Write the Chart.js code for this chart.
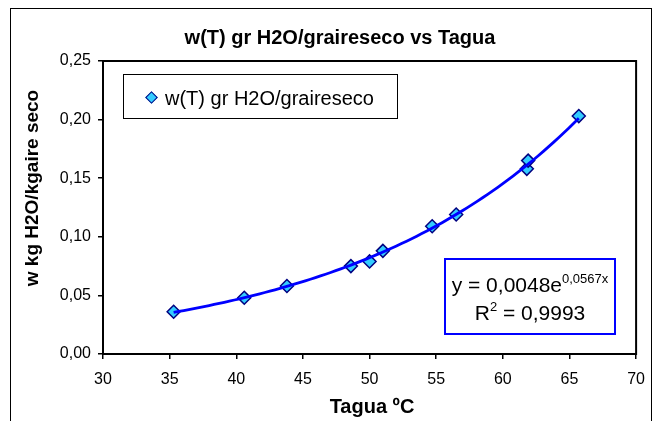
<!DOCTYPE html>
<html>
<head>
<meta charset="utf-8">
<script src="https://cdn.jsdelivr.net/npm/chart.js@4"></script>
<style>
html,body{margin:0;padding:0;background:#fff;overflow:hidden}
#wrap{position:relative;width:656px;height:421px;overflow:hidden;font-family:"Liberation Sans",Arial,sans-serif;color:#000}
#cv{position:absolute;left:0;top:0}
#frame{position:absolute;left:10px;top:8px;width:642px;height:500px;border:1.5px solid #000;box-sizing:border-box;pointer-events:none}
.abs{position:absolute;white-space:nowrap}
#title{left:340px;top:37px;transform:translate(-50%,-50%);font-weight:bold;font-size:20px}
#ytitle{left:32px;top:188px;transform:translate(-50%,-50%) rotate(-90deg);font-weight:bold;font-size:19px}
#xtitle{left:372px;top:406px;transform:translate(-50%,-50%);font-weight:bold;font-size:20px}
#legend{left:123px;top:74px;width:275px;height:45px;border:1px solid #000;background:#fff;box-sizing:border-box}
#legmark{left:147px;top:93px;width:7px;height:7px;background:#33CCFF;border:1.5px solid #000080;transform:rotate(45deg)}
#legtext{left:165px;top:86px;font-size:20px;line-height:24px}
#eqbox{left:444px;top:258px;width:172px;height:77px;border:2px solid #0000FF;background:#fff;box-sizing:border-box}
.eq{left:444px;width:172px;text-align:center;font-size:21px;line-height:24px}
#eq1{top:273px}
#eq2{top:301px}
sup{font-size:13px;vertical-align:0;position:relative;top:-9px}
</style>
</head>
<body>
<div id="wrap">
  <canvas id="cv" width="656" height="421"></canvas>
  <div id="frame"></div>
  <div id="title" class="abs">w(T) gr H2O/graireseco vs Tagua</div>
  <div id="ytitle" class="abs">w kg H2O/kgaire seco</div>
  <div id="xtitle" class="abs">Tagua ºC</div>
  <div id="legend" class="abs"></div>
  <div id="legmark" class="abs"></div>
  <div id="legtext" class="abs">w(T) gr H2O/graireseco</div>
  <div id="eqbox" class="abs"></div>
  <div id="eq1" class="abs eq">y = 0,0048e<sup>0,0567x</sup></div>
  <div id="eq2" class="abs eq">R<sup>2</sup> = 0,9993</div>
</div>
<script>
// ---- data ----
const temps   = [35.3, 40.6, 43.8, 48.6, 50.0, 51.0, 54.7, 56.5, 61.8, 61.9, 65.7];
const wValues = [0.036, 0.048, 0.058, 0.075, 0.079, 0.088, 0.109, 0.119, 0.158, 0.165, 0.203];
const seriesLabel = 'w(T) gr H2O/graireseco';
const xTicks = [30, 35, 40, 45, 50, 55, 60, 65, 70];
const xTickLabels = ['30', '35', '40', '45', '50', '55', '60', '65', '70'];
const yTicks = [0, 0.05, 0.10, 0.15, 0.20, 0.25];
const yTickLabels = ['0,00', '0,05', '0,10', '0,15', '0,20', '0,25'];

// ---- exponential trendline (least squares on ln y, as the spreadsheet does) ----
const n = temps.length;
let sx = 0, sy = 0, sxx = 0, sxy = 0;
for (let i = 0; i < n; i++) {
  const lx = temps[i], ly = Math.log(wValues[i]);
  sx += lx; sy += ly; sxx += lx * lx; sxy += lx * ly;
}
const fitB = (n * sxy - sx * sy) / (n * sxx - sx * sx);
const fitA = Math.exp((sy - fitB * sx) / n);
const xMin = Math.min(...temps), xMax = Math.max(...temps);
const trendPts = [];
for (let k = 0; k <= 80; k++) {
  const x = xMin + (xMax - xMin) * k / 80;
  trendPts.push({ x: x, y: fitA * Math.exp(fitB * x) });
}

const plotBorder = {
  id: 'plotBorder',
  beforeDatasetsDraw(chart) {
    const a = chart.chartArea, c = chart.ctx;
    c.save();
    c.strokeStyle = '#000';
    c.lineWidth = 2;
    c.strokeRect(a.left, a.top, a.right - a.left, a.bottom - a.top);
    c.restore();
  }
};

new Chart(document.getElementById('cv'), {
  type: 'scatter',
  data: {
    datasets: [
      {
        label: 'trend',
        data: trendPts,
        showLine: true,
        borderColor: '#0000FF',
        borderWidth: 2.8,
        pointRadius: 0,
        fill: false,
        tension: 0,
        order: 0
      },
      {
        label: seriesLabel,
        data: temps.map((t, i) => ({ x: t, y: wValues[i] })),
        pointStyle: 'rectRot',
        pointRadius: 6.5,
        backgroundColor: '#33CCFF',
        borderColor: '#000080',
        borderWidth: 1.5,
        order: 1
      }
    ]
  },
  options: {
    responsive: false,
    animation: false,
    events: [],
    layout: { padding: { left: 0, right: 18, top: 61, bottom: 0 } },
    plugins: { legend: { display: false }, tooltip: { enabled: false }, title: { display: false } },
    scales: {
      x: {
        type: 'linear', min: 30, max: 70,
        afterBuildTicks(s) { s.ticks = xTicks.map(v => ({ value: v })); },
        afterFit(s) { s.height = 67; },
        ticks: {
          callback: (v, i) => xTickLabels[i],
          color: '#000', padding: 11, maxRotation: 0,
          font: { family: 'Liberation Sans', size: 16 }
        },
        grid: { drawOnChartArea: false, drawTicks: true, tickLength: 5, color: '#000', tickColor: '#000', lineWidth: 1.5 },
        border: { display: false }
      },
      y: {
        type: 'linear', min: 0, max: 0.25,
        afterBuildTicks(s) { s.ticks = yTicks.map(v => ({ value: v })); },
        afterFit(s) { s.width = 103; },
        ticks: {
          callback: (v, i) => yTickLabels[i],
          color: '#000', padding: 7,
          font: { family: 'Liberation Sans', size: 16 }
        },
        grid: { drawOnChartArea: false, drawTicks: true, tickLength: 5, color: '#000', tickColor: '#000', lineWidth: 1.5 },
        border: { display: false }
      }
    }
  },
  plugins: [plotBorder]
});
</script>
</body>
</html>
